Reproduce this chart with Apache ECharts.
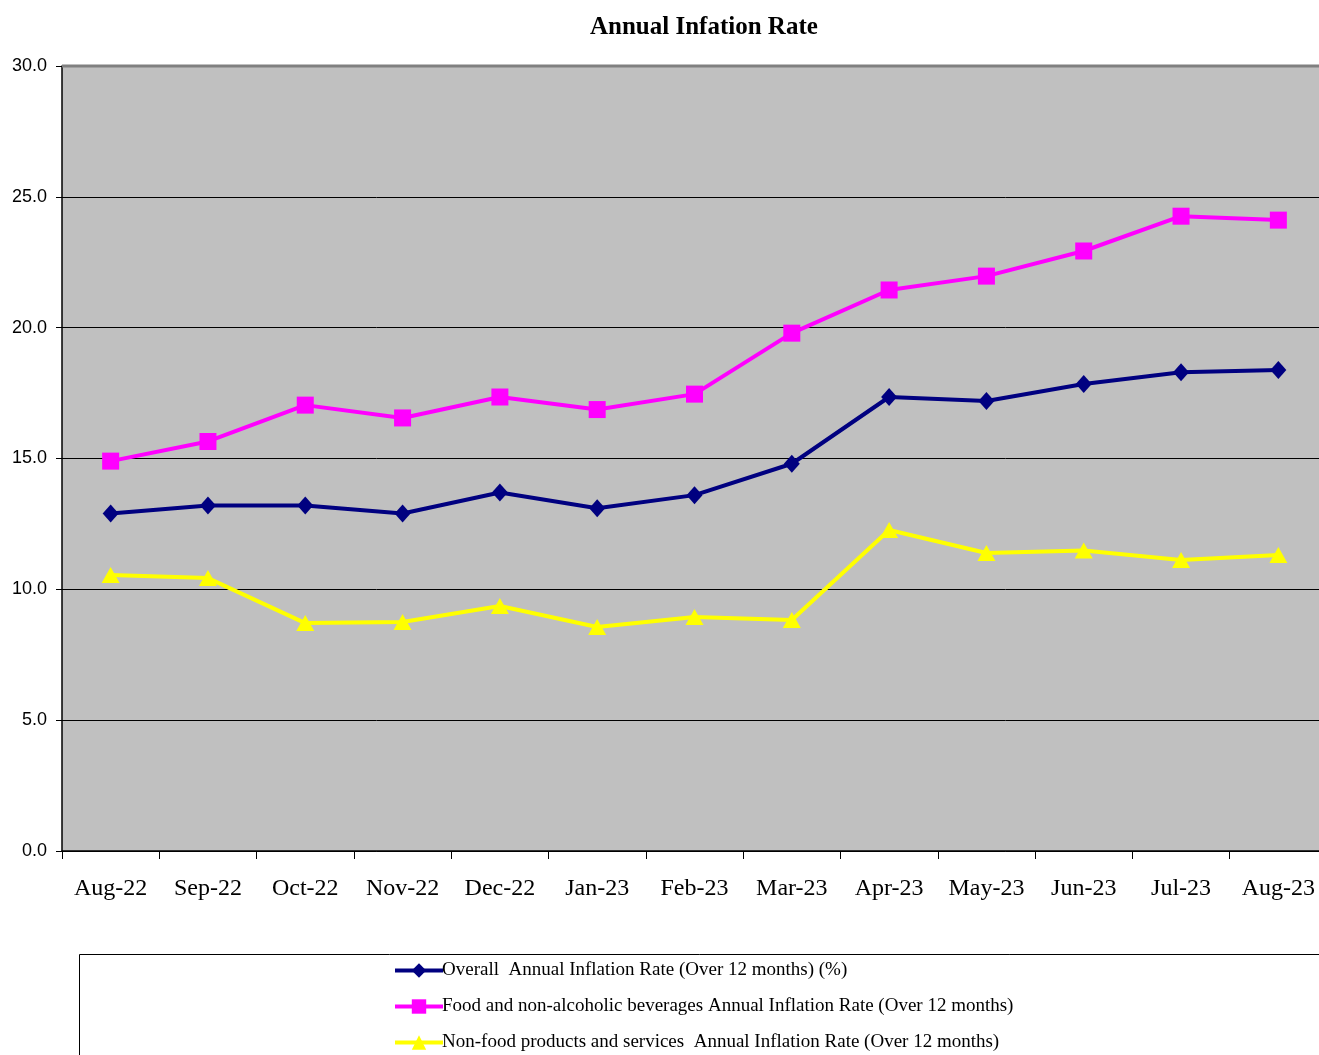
<!DOCTYPE html>
<html>
<head>
<meta charset="utf-8">
<script src="https://cdn.jsdelivr.net/npm/echarts@6/dist/echarts.min.js"></script>
<style>
  html, body { margin: 0; padding: 0; background: #fff; }
  #main { width: 1319px; height: 1055px; }
</style>
</head>
<body>
<div id="main"></div>
<script>
var months = ['Aug-22','Sep-22','Oct-22','Nov-22','Dec-22','Jan-23','Feb-23','Mar-23','Apr-23','May-23','Jun-23','Jul-23','Aug-23'];
var overall = [12.9, 13.2, 13.2, 12.9, 13.7, 13.1, 13.6, 14.8, 17.35, 17.2, 17.85, 18.3, 18.38];
var food = [14.9, 15.65, 17.04, 16.55, 17.35, 16.87, 17.46, 19.79, 21.44, 21.97, 22.93, 24.26, 24.11];
var nonFood = [10.55, 10.43, 8.71, 8.75, 9.36, 8.56, 8.94, 8.83, 12.27, 11.39, 11.48, 11.12, 11.31];
var seriesNames = [
  'Overall  Annual Inflation Rate (Over 12 months) (%)',
  'Food and non-alcoholic beverages Annual Inflation Rate (Over 12 months)',
  'Non-food products and services  Annual Inflation Rate (Over 12 months)'
];

var chart = echarts.init(document.getElementById('main'));

chart.setOption({
  animation: false,
  backgroundColor: '#fff',
  title: {
    text: 'Annual Infation Rate',
    left: 585,
    top: 10,
    textStyle: {
      fontFamily: 'Liberation Serif',
      fontWeight: 'bold',
      fontSize: 25,
      color: '#000'
    }
  },
  grid: {
    left: 62,
    top: 66,
    width: 1265,
    height: 785,
    outerBoundsMode: 'none',
    containLabel: false,
    show: true,
    backgroundColor: '#c0c0c0',
    borderWidth: 0
  },
  graphic: [{
    type: 'rect',
    left: 77,
    top: 952,
    shape: { width: 1300, height: 200 },
    style: { fill: 'none', stroke: '#000', lineWidth: 1 },
    silent: true
  }, {
    type: 'line',
    shape: { x1: 62, y1: 66, x2: 1319, y2: 66 },
    style: { stroke: '#808080', lineWidth: 3 },
    z: 5
  }],
  legend: {
    orient: 'vertical',
    left: 388,
    top: 961,
    padding: [0, 5, 0, 5],
    height: 94,
    itemGap: 17,
    itemWidth: 48,
    itemHeight: 18,
    lineStyle: { width: 4 },
    textStyle: {
      fontFamily: 'Liberation Serif',
      fontSize: 19,
      color: '#000',
      padding: [0, 0, 0, -6]
    },
    data: seriesNames
  },
  xAxis: {
    type: 'category',
    data: months,
    boundaryGap: true,
    axisLine: { lineStyle: { color: '#000', width: 1.5 } },
    axisTick: { show: true, length: 8, lineStyle: { color: '#000' } },
    axisLabel: {
      interval: 0,
      margin: 26,
      fontFamily: 'Liberation Serif',
      fontSize: 24,
      color: '#000'
    },
    splitLine: { show: false }
  },
  yAxis: {
    type: 'value',
    min: 0,
    max: 30,
    interval: 5,
    axisLine: { show: true, lineStyle: { color: '#000', width: 1.5 } },
    axisTick: { show: true, length: 6, lineStyle: { color: '#000' } },
    axisLabel: {
      margin: 15,
      fontFamily: 'Liberation Sans',
      fontSize: 18,
      color: '#000',
      formatter: function (v) { return v.toFixed(1); }
    },
    splitLine: { show: true, lineStyle: { color: '#000', width: 1 } }
  },
  series: [
    {
      name: seriesNames[0],
      type: 'line',
      data: overall,
      symbol: 'diamond',
      symbolSize: [16, 18],
      itemStyle: { color: '#000080' },
      lineStyle: { color: '#000080', width: 4 },
      z: 3
    },
    {
      name: seriesNames[1],
      type: 'line',
      data: food,
      symbol: 'rect',
      symbolSize: 17,
      itemStyle: { color: '#ff00ff' },
      lineStyle: { color: '#ff00ff', width: 4 },
      z: 3
    },
    {
      name: seriesNames[2],
      type: 'line',
      data: nonFood,
      symbol: 'triangle',
      symbolSize: [18, 16],
      itemStyle: { color: '#ffff00' },
      lineStyle: { color: '#ffff00', width: 4 },
      z: 3
    }
  ]
});
</script>
</body>
</html>
